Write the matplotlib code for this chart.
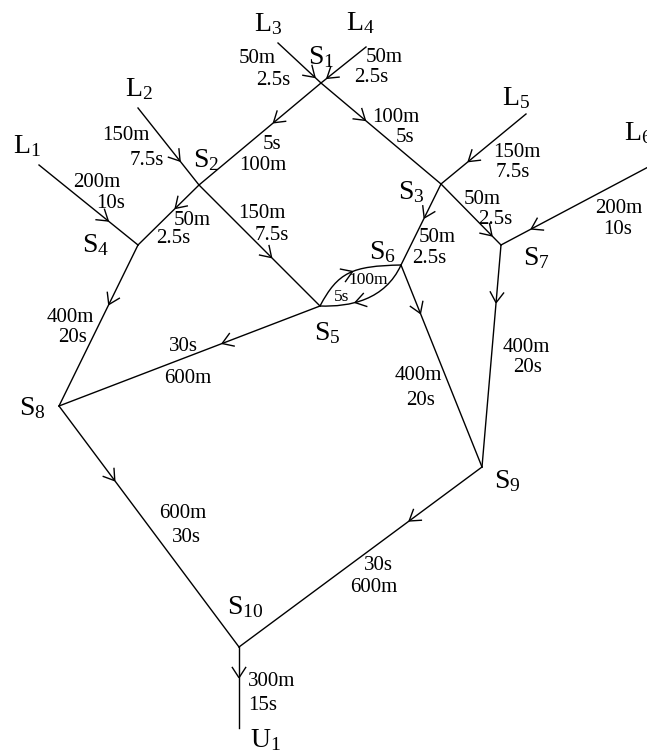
import numpy as np
import matplotlib
matplotlib.use("Agg")
import matplotlib.pyplot as plt
from matplotlib.path import Path
from matplotlib.patches import PathPatch

plt.rcParams['font.family'] = ['Liberation Serif', 'DejaVu Serif']
plt.rcParams['mathtext.fontset'] = 'custom'
plt.rcParams['mathtext.rm'] = 'Liberation Serif'
plt.rcParams['mathtext.it'] = 'Liberation Serif:italic'

# ---- nodes (pixel coordinates of the diagram) ----
node_names = ['L1', 'L2', 'L3', 'L4', 'L5', 'L6', 'S1', 'S2', 'S3', 'S4',
              'S5', 'S6', 'S7', 'S8', 'S9', 'S10', 'U1']
node_x = [39, 138, 278, 366, 526, 652, 321, 199, 441, 138,
          320, 401, 501, 59, 482, 239, 239]
node_y = [165, 108, 43, 47, 114, 165, 83, 185, 184, 245,
          306, 265, 245, 406, 467, 647, 728]

# node label positions
label_x = [27, 139, 268, 360, 516, 638, 321, 206, 411, 96,
           327, 382, 536, 32, 507, 245, 265]
label_y = [146, 89, 24, 23, 98, 133, 57, 160, 192, 245,
           333, 252, 258, 408, 481, 607, 740]

# ---- straight edges ----
edge_from = ['L3', 'L4', 'S1', 'L2', 'L1', 'S2', 'S2', 'S1', 'L5', 'S3',
             'S3', 'L6', 'S7', 'S6', 'S4', 'S5', 'S8', 'S9', 'S10']
edge_to = ['S1', 'S1', 'S2', 'S2', 'S4', 'S4', 'S5', 'S3', 'S3', 'S6',
           'S7', 'S7', 'S9', 'S9', 'S8', 'S8', 'S10', 'S10', 'U1']
arrow_frac = [0.86, 0.87, 0.39, 0.69, 0.70, 0.39, 0.60, 0.37, 0.68, 0.42,
              0.85, 0.80, 0.26, 0.24, 0.37, 0.375, 0.31, 0.30, 0.38]

# edge annotations: two text lines per edge
text_a = ['50m', '50m', '5s', '150m', '200m', '50m', '150m', '100m', '150m', '50m',
          '50m', '200m', '400m', '400m', '400m', '30s', '600m', '30s', '300m']
text_b = ['2.5s', '2.5s', '100m', '7.5s', '10s', '2.5s', '7.5s', '5s', '7.5s', '2.5s',
          '2.5s', '10s', '20s', '20s', '20s', '600m', '30s', '600m', '15s']
text_a_xy = [(257, 58), (384, 57), (272, 144), (126, 135), (97, 182), (192, 220),
             (262, 213), (396, 117), (517, 152), (437, 237), (482, 199), (619, 208),
             (526, 347), (418, 375), (70, 317), (183, 346), (183, 513), (378, 566),
             (272, 682)]
text_b_xy = [(273, 80), (371, 77), (263, 165), (147, 160), (111, 203), (173, 238),
             (272, 235), (405, 137), (513, 172), (429, 258), (495, 219), (618, 229),
             (528, 367), (421, 400), (73, 337), (188, 378), (186, 538), (374, 587),
             (263, 705)]

# ---- curved pair between S5 and S6 ----
curve_text = ['100m', '5s']
curve_text_xy = [(368, 280), (342, 297)]

pos = {n: np.array([x, y], float) for n, x, y in zip(node_names, node_x, node_y)}

fig = plt.figure(figsize=(6.47, 7.53), dpi=100)
ax = fig.add_axes([0, 0, 1, 1])
ax.set_xlim(0, 647)
ax.set_ylim(753, 0)
ax.set_aspect('equal')
ax.axis('off')

LW = 1.0
ARM = 13.0
HALF = np.deg2rad(33)


def chevron(tip, d):
    d = d / np.linalg.norm(d)
    for s in (1, -1):
        c, si = np.cos(s * HALF), np.sin(s * HALF)
        r = np.array([c * d[0] - si * d[1], si * d[0] + c * d[1]])
        end = tip - ARM * r
        ax.plot([tip[0], end[0]], [tip[1], end[1]], color='black', lw=LW,
                solid_capstyle='butt')


for f, t, fr in zip(edge_from, edge_to, arrow_frac):
    p0, p1 = pos[f], pos[t]
    ax.plot([p0[0], p1[0]], [p0[1], p1[1]], color='black', lw=LW)
    chevron(p0 + fr * (p1 - p0), p1 - p0)

# curves
S5, S6 = pos['S5'], pos['S6']
upper = [S5, np.array([338, 272.]), np.array([352, 266.]), S6]
lower = [S6, np.array([385, 300.]), np.array([350, 307.]), S5]


def bez(P, t):
    return ((1 - t) ** 3 * P[0] + 3 * (1 - t) ** 2 * t * P[1]
            + 3 * (1 - t) * t ** 2 * P[2] + t ** 3 * P[3])


def dbez(P, t):
    return (3 * (1 - t) ** 2 * (P[1] - P[0]) + 6 * (1 - t) * t * (P[2] - P[1])
            + 3 * t ** 2 * (P[3] - P[2]))


for P, tt in ((upper, 0.55), (lower, 0.62)):
    path = Path(P, [Path.MOVETO, Path.CURVE4, Path.CURVE4, Path.CURVE4])
    ax.add_patch(PathPatch(path, facecolor='none', edgecolor='black', lw=LW))
    chevron(bez(P, tt), dbez(P, tt))

# node labels
for n, x, y in zip(node_names, label_x, label_y):
    ax.text(x, y, r'$\mathrm{%s}_{\mathrm{%s}}$' % (n[0], n[1:]), fontsize=20,
            ha='center', va='center')

for s, (x, y) in zip(text_a, text_a_xy):
    ax.text(x, y, s, fontsize=15, ha='center', va='center')
for s, (x, y) in zip(text_b, text_b_xy):
    ax.text(x, y, s, fontsize=15, ha='center', va='center')
for s, (x, y) in zip(curve_text, curve_text_xy):
    ax.text(x, y, s, fontsize=12.5, ha='center', va='center')

fig.savefig('out.png', dpi=100)
